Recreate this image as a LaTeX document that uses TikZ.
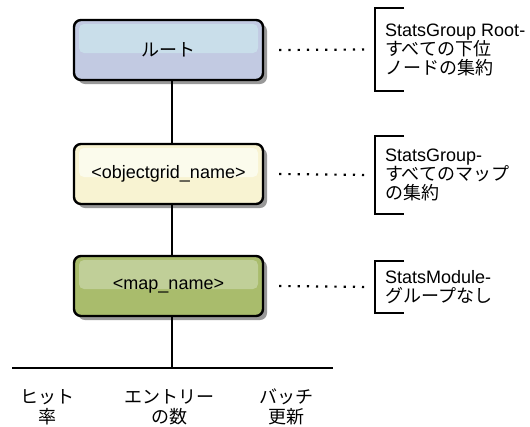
\documentclass[tikz,border=0pt]{standalone}
\usepackage{fontspec}
\setmainfont{Liberation Sans}
\newfontfamily\jp{Noto Sans CJK JP}
\usetikzlibrary{positioning,shadows}
\definecolor{rootTop}{HTML}{C9DEEA}
\definecolor{rootBot}{HTML}{C2CAE2}
\definecolor{gridTop}{HTML}{FBFBEC}
\definecolor{gridBot}{HTML}{F8F3D2}
\definecolor{mapTop}{HTML}{C0CF98}
\definecolor{mapBot}{HTML}{A9BC6C}
\begin{document}
\begin{tikzpicture}[x=1pt, y=-1pt, font=\fontsize{18}{19}\selectfont,
    stage/.style 2 args={draw=black, line width=2.4pt, rounded corners=7pt,
        minimum width=189pt, minimum height=60pt, fill=#2,
        drop shadow={shadow xshift=4pt, shadow yshift=-4pt, fill=black!40, opacity=1},
        path picture={\fill[#1, rounded corners=5pt]
            ([shift={(5pt,-4pt)}]path picture bounding box.north west) rectangle
            ([shift={(-5pt,-3pt)}]path picture bounding box.east);}},
    note/.style={anchor=west, align=left, inner xsep=10pt, inner ysep=0pt},
    brk/.style={line width=2.4pt},
    dots/.style={line width=2.2pt, dash pattern=on 2.2pt off 7pt},
    trunk/.style={line width=2pt},
    leaf/.style={align=center, font=\jp\fontsize{18}{20}\selectfont}]
    \useasboundingbox (0,0) rectangle (530,426);

    \node[stage={rootTop}{rootBot}] (root) at (168.5,50) {\jp ルート};
    \node[stage={gridTop}{gridBot}] (grid) at (168.5,174) {<objectgrid\_name>};
    \node[stage={mapTop}{mapBot}] (map) at (168.5,286) {<map\_name>};

    \node[note, minimum height=83pt] (sgroot) at (375,49.5) {StatsGroup Root-\\{\jp すべての下位}\\{\jp ノードの集約}};
    \node[note, minimum height=78pt] (sgrp) at (375,175) {StatsGroup-\\{\jp すべてのマップ}\\{\jp の集約}};
    \node[note, minimum height=52pt] (smod) at (375,287) {StatsModule-\\{\jp グループなし}};

    \draw[brk] ([xshift=29pt]sgroot.north west) -| (sgroot.south west) -- ++(29,0);
    \draw[brk] ([xshift=29pt]sgrp.north west) -| (sgrp.south west) -- ++(29,0);
    \draw[brk] ([xshift=29pt]smod.north west) -| (smod.south west) -- ++(29,0);

    \draw[dots] ([xshift=15pt]root.east) -- ([xshift=-5pt]sgroot.west);
    \draw[dots] ([xshift=15pt]grid.east) -- ([xshift=-5pt]sgrp.west);
    \draw[dots] ([xshift=15pt]map.east) -- ([xshift=-5pt]smod.west);

    \coordinate (baseL) at (12,368);
    \coordinate (baseR) at (333,368);
    \draw[trunk] ([xshift=3pt]root.south) -- ([xshift=3pt]grid.north);
    \draw[trunk] ([xshift=3pt]grid.south) -- ([xshift=3pt]map.north);
    \draw[trunk] ([xshift=3pt]map.south) -- ([xshift=3pt]map.south |- baseL);
    \draw[trunk] (baseL) -- (baseR); % counters row

    \node[leaf] (hit) at (47,407) {ヒット\\率};
    \node[leaf] (entries) at (169,407) {エントリー\\の数};
    \node[leaf] (batch) at (286,407) {バッチ\\更新};
\end{tikzpicture}
\end{document}
